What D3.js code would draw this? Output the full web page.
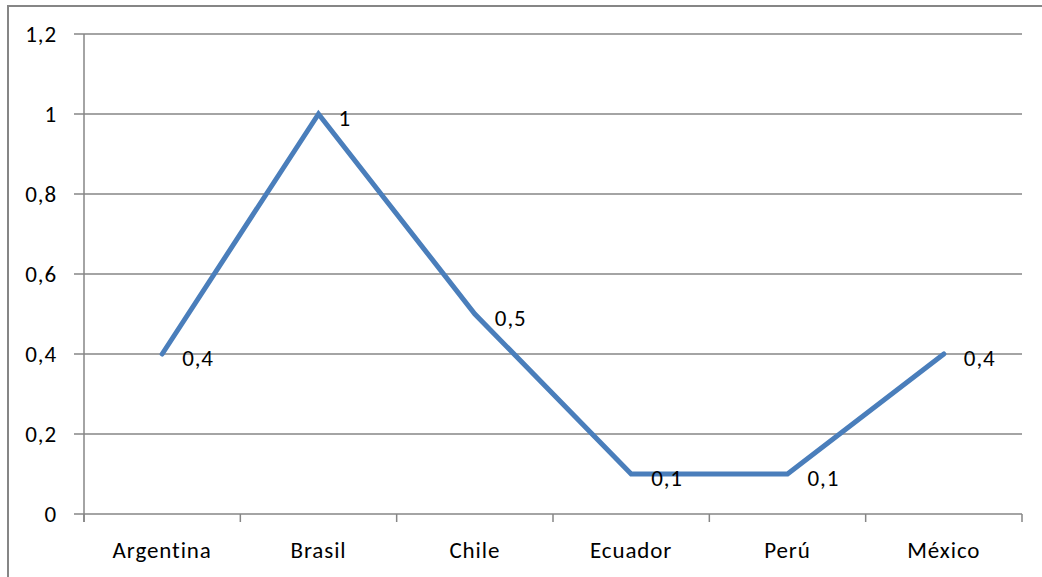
<!DOCTYPE html>
<html><head><meta charset="utf-8">
<script src="https://cdn.jsdelivr.net/npm/d3@7"></script>
<style>body{margin:0;background:#fff;} svg{display:block;}</style>
</head><body>
<svg id="c" width="1042" height="577"></svg>
<script>
const categories = ["Argentina","Brasil","Chile","Ecuador","Perú","México"];
const values = [0.4, 1, 0.5, 0.1, 0.1, 0.4];
const yTicks = [0, 0.2, 0.4, 0.6, 0.8, 1, 1.2];

const svg = d3.select("#c");
const font = "Carlito, Calibri, 'Liberation Sans', Arial, sans-serif";
const fs = 23, ls = "0.9px";
const m = {left:84, right:1022, top:34, bottom:514};
const fmt = v => String(+v.toFixed(1)).replace(".", ",");

svg.append("rect").attr("x",8).attr("y",6).attr("width",1100).attr("height",700)
  .attr("fill","none").attr("stroke","#868686").attr("stroke-width",2);

const x = d3.scaleBand().domain(categories).range([m.left, m.right]).padding(0);
const y = d3.scaleLinear().domain([0,1.2]).range([m.bottom, m.top]);

svg.append("g").selectAll("line").data(yTicks).join("line")
  .attr("x1",74).attr("x2",m.right)
  .attr("y1",d=>y(d)).attr("y2",d=>y(d))
  .attr("stroke","#868686").attr("stroke-width",1.5);

svg.append("line").attr("x1",m.left).attr("x2",m.left).attr("y1",m.top).attr("y2",m.bottom+8)
  .attr("stroke","#868686").attr("stroke-width",1.5);

svg.append("g").selectAll("text").data(yTicks).join("text")
  .attr("x",57).attr("y",d=>y(d)).attr("dy","0.35em")
  .attr("text-anchor","end").attr("font-family",font).attr("font-size",fs)
  .attr("letter-spacing",ls).attr("fill","#000").text(fmt);

const bounds = categories.map(c=>x(c)).concat([m.right]);
svg.append("g").selectAll("line").data(bounds).join("line")
  .attr("x1",d=>d).attr("x2",d=>d).attr("y1",m.bottom).attr("y2",m.bottom+8)
  .attr("stroke","#868686").attr("stroke-width",1.5);

svg.append("g").selectAll("text").data(categories).join("text")
  .attr("x",d=>x(d)+x.bandwidth()/2).attr("y",558)
  .attr("text-anchor","middle").attr("font-family",font).attr("font-size",fs)
  .attr("letter-spacing",ls).attr("fill","#000").text(d=>d);

const line = d3.line().x((d,i)=>x(categories[i])+x.bandwidth()/2).y(d=>y(d));
svg.append("path").datum(values).attr("d",line)
  .attr("fill","none").attr("stroke","#4a7ebb").attr("stroke-width",5)
  .attr("stroke-linejoin","miter").attr("stroke-linecap","round");

svg.append("g").selectAll("text").data(values).join("text")
  .attr("x",(d,i)=>x(categories[i])+x.bandwidth()/2+20)
  .attr("y",d=>y(d)+12)
  .attr("font-family",font).attr("font-size",fs).attr("letter-spacing",ls)
  .attr("fill","#000").text(fmt);
</script>
</body></html>
